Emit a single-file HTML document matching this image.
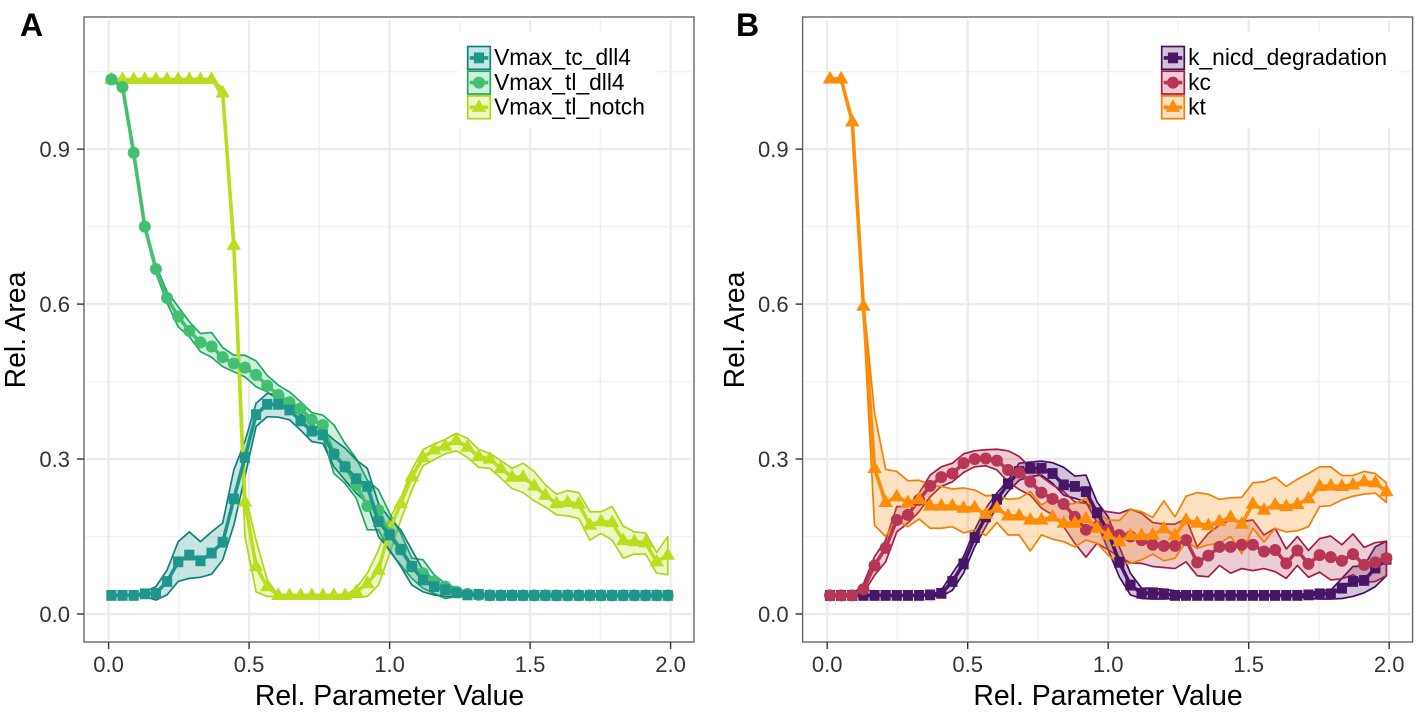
<!DOCTYPE html>
<html lang="en">
<head>
<meta charset="utf-8">
<title>Relative area vs relative parameter value</title>
<style>
html,body{margin:0;padding:0;background:#fff;}
svg{display:block;font-family:"Liberation Sans",Arial,sans-serif;}
</style>
</head>
<body>
<svg id="chart" xmlns="http://www.w3.org/2000/svg" width="1418" height="712" viewBox="0 0 1418 712">
  <rect x="0" y="0" width="1418" height="712" fill="#fff"/>
  <g id="panel-a"></g>
  <g id="panel-b"></g>
  <text x="20" y="36" font-size="32" font-weight="bold" fill="#000">A</text>
  <text x="736" y="36" font-size="32" font-weight="bold" fill="#000">B</text>
  <text x="389.5" y="705" font-size="28.4" text-anchor="middle" fill="#000">Rel. Parameter Value</text>
  <text x="1108" y="705" font-size="28.4" text-anchor="middle" fill="#000">Rel. Parameter Value</text>
  <text transform="translate(25,330) rotate(-90)" font-size="28.4" text-anchor="middle" fill="#000">Rel. Area</text>
  <text transform="translate(744,330) rotate(-90)" font-size="28.4" text-anchor="middle" fill="#000">Rel. Area</text>
</svg>
<script>
const paramValues = [0.0100,0.0496,0.0892,0.1288,0.1684,0.2080,0.2476,0.2872,0.3268,0.3664,0.4060,0.4456,0.4852,0.5248,0.5644,0.6040,0.6436,0.6832,0.7228,0.7624,0.8020,0.8416,0.8812,0.9208,0.9604,1.0000,1.0396,1.0792,1.1188,1.1584,1.1980,1.2376,1.2772,1.3168,1.3564,1.3960,1.4356,1.4752,1.5148,1.5544,1.5940,1.6336,1.6732,1.7128,1.7524,1.7920,1.8316,1.8712,1.9108,1.9504,1.9900];

const xTickValues = [0, 0.5, 1, 1.5, 2];
const xTickLabels = ["0.0", "0.5", "1.0", "1.5", "2.0"];
const xMinorValues = [0.25, 0.75, 1.25, 1.75];
const yTickValues = [0, 0.3, 0.6, 0.9];
const yTickLabels = ["0.0", "0.3", "0.6", "0.9"];
const yMinorValues = [0.15, 0.45, 0.75, 1.05];

const tcDll4Mean = [.036,.036,.036,.039,.040,.063,.101,.114,.103,.118,.139,.223,.303,.386,.406,.406,.395,.374,.354,.347,.309,.285,.262,.247,.179,.153,.125,.092,.066,.053,.047,.041,.037,.038,.036,.036,.036,.036,.036,.036,.036,.036,.036,.036,.036,.036,.036,.036,.036,.036,.036];
const tcDll4Hi = [.036,.036,.036,.043,.053,.085,.140,.159,.140,.159,.176,.279,.334,.408,.427,.424,.411,.389,.366,.356,.337,.321,.298,.282,.214,.185,.163,.124,.085,.066,.053,.043,.039,.036,.036,.036,.036,.036,.036,.036,.036,.036,.036,.036,.036,.036,.036,.036,.036,.036,.036];
const tcDll4Lo = [.036,.036,.036,.034,.027,.037,.063,.069,.071,.077,.105,.172,.266,.363,.382,.381,.376,.356,.334,.330,.285,.259,.234,.214,.150,.124,.092,.056,.043,.037,.034,.034,.034,.036,.036,.036,.036,.036,.036,.036,.036,.036,.036,.036,.036,.036,.036,.036,.036,.036,.036];

const tlDll4Mean = [1.035,1.020,.893,.750,.668,.612,.576,.548,.526,.518,.497,.485,.477,.463,.442,.424,.410,.398,.376,.366,.310,.285,.250,.209,.201,.156,.125,.092,.079,.063,.053,.043,.039,.037,.036,.036,.036,.036,.036,.036,.036,.036,.036,.036,.036,.036,.036,.036,.036,.036,.036];
const tlDll4Hi = [1.036,1.022,.897,.755,.675,.624,.595,.566,.543,.545,.516,.501,.501,.490,.462,.443,.430,.411,.390,.385,.366,.330,.301,.259,.240,.195,.156,.108,.105,.076,.059,.050,.041,.037,.036,.036,.036,.036,.036,.036,.036,.036,.036,.036,.036,.036,.036,.036,.036,.036,.036];
const tlDll4Lo = [1.034,1.018,.888,.745,.660,.602,.556,.537,.508,.497,.479,.469,.459,.440,.430,.414,.398,.385,.363,.343,.272,.253,.224,.163,.163,.121,.095,.069,.050,.040,.030,.034,.034,.036,.036,.036,.036,.036,.036,.036,.036,.036,.036,.036,.036,.036,.036,.036,.036,.036,.036];

const tlNotchMean = [1.035,1.035,1.035,1.035,1.035,1.035,1.035,1.035,1.035,1.035,1.009,.714,.217,.092,.053,.036,.036,.036,.036,.036,.036,.036,.043,.059,.085,.163,.214,.266,.303,.318,.325,.336,.323,.305,.300,.282,.265,.265,.248,.230,.214,.216,.213,.172,.179,.177,.142,.140,.138,.101,.114];
const tlNotchHi = [1.036,1.036,1.036,1.036,1.036,1.036,1.036,1.036,1.036,1.036,1.018,.740,.234,.143,.066,.036,.036,.036,.036,.036,.036,.036,.050,.079,.124,.185,.224,.279,.318,.329,.338,.350,.340,.319,.311,.297,.282,.292,.276,.250,.232,.239,.235,.198,.198,.208,.170,.159,.157,.119,.150];
const tlNotchLo = [1.034,1.034,1.034,1.034,1.034,1.034,1.034,1.034,1.034,1.034,1.000,.690,.150,.043,.034,.034,.034,.034,.034,.034,.034,.034,.032,.034,.056,.117,.182,.240,.287,.299,.310,.316,.303,.284,.282,.263,.243,.235,.219,.207,.192,.190,.185,.143,.156,.143,.108,.116,.116,.079,.076];

const nicdMean = [.036,.036,.036,.036,.036,.036,.036,.036,.036,.037,.040,.063,.097,.148,.188,.222,.252,.276,.282,.282,.272,.250,.247,.237,.196,.159,.100,.056,.040,.041,.039,.036,.036,.036,.036,.036,.036,.036,.036,.036,.036,.036,.036,.037,.039,.039,.050,.063,.065,.089,.106];
const nicdHi = [.036,.036,.036,.036,.036,.036,.036,.036,.036,.036,.046,.079,.111,.163,.205,.234,.259,.292,.294,.296,.293,.284,.267,.269,.217,.188,.130,.079,.050,.050,.048,.045,.037,.037,.037,.037,.037,.037,.037,.037,.037,.037,.037,.040,.045,.046,.069,.092,.093,.130,.141];
const nicdLo = [.035,.035,.035,.035,.035,.035,.035,.035,.035,.035,.034,.046,.079,.130,.169,.208,.237,.259,.266,.269,.253,.230,.224,.217,.177,.124,.072,.037,.030,.029,.029,.030,.034,.034,.034,.034,.034,.034,.034,.034,.034,.034,.034,.030,.029,.029,.030,.034,.041,.053,.074];

const kcMean = [.036,.036,.036,.048,.094,.128,.182,.192,.221,.248,.265,.272,.292,.300,.301,.297,.279,.274,.256,.235,.223,.213,.188,.163,.169,.163,.153,.150,.143,.134,.132,.132,.143,.100,.113,.130,.130,.134,.134,.121,.124,.098,.123,.097,.114,.110,.103,.116,.095,.100,.108];
const kcHi = [.037,.037,.037,.058,.111,.143,.208,.208,.234,.269,.285,.292,.310,.316,.318,.319,.316,.305,.284,.266,.250,.237,.217,.214,.201,.198,.195,.203,.195,.177,.174,.174,.185,.130,.156,.172,.182,.179,.182,.153,.166,.126,.150,.123,.146,.151,.134,.155,.129,.138,.141];
const kcLo = [.035,.035,.035,.040,.075,.101,.159,.176,.198,.227,.247,.256,.274,.285,.287,.279,.256,.241,.230,.205,.192,.169,.137,.110,.137,.124,.111,.099,.098,.092,.090,.088,.101,.074,.072,.094,.079,.088,.084,.088,.082,.069,.094,.071,.081,.066,.068,.076,.061,.063,.074];

const ktMean = [1.036,1.036,.953,.596,.282,.216,.227,.216,.222,.209,.209,.209,.205,.206,.193,.205,.190,.190,.182,.182,.188,.176,.176,.185,.166,.153,.140,.152,.152,.153,.165,.152,.182,.176,.171,.179,.187,.174,.213,.201,.211,.208,.212,.223,.247,.248,.247,.250,.256,.254,.237];
const ktHi = [1.037,1.037,.960,.610,.389,.280,.276,.258,.259,.250,.247,.242,.244,.240,.229,.230,.222,.224,.237,.211,.224,.211,.214,.224,.195,.182,.181,.203,.198,.187,.219,.188,.228,.235,.232,.222,.225,.226,.254,.256,.265,.247,.261,.272,.285,.285,.268,.268,.276,.272,.254];
const ktLo = [1.035,1.035,.945,.580,.172,.150,.182,.169,.184,.166,.166,.169,.157,.163,.152,.177,.153,.153,.122,.153,.145,.140,.130,.143,.137,.114,.097,.098,.105,.116,.103,.108,.140,.127,.134,.137,.150,.117,.166,.139,.166,.159,.161,.169,.208,.210,.221,.228,.232,.234,.216];

const NS = "http://www.w3.org/2000/svg";
const PANEL_W = 610, PANEL_TOP = 17, PANEL_BOTTOM = 642;

function xScale(left, v) { return left + 24.6 + 281 * v; }
function yScale(v) { return 614 - 516.5 * v; }

function mk(parent, tag, attrs) {
  const el = document.createElementNS(NS, tag);
  for (const k in attrs) el.setAttribute(k, attrs[k]);
  parent.appendChild(el);
  return el;
}

function linePoints(left, ys) {
  return ys.map((v, i) => xScale(left, paramValues[i]).toFixed(2) + "," + yScale(v).toFixed(2)).join(" ");
}

function bandPoints(left, hi, lo) {
  const up = hi.map((v, i) => xScale(left, paramValues[i]).toFixed(2) + "," + yScale(v).toFixed(2));
  const down = lo.map((v, i) => xScale(left, paramValues[i]).toFixed(2) + "," + yScale(v).toFixed(2)).reverse();
  return up.concat(down).join(" ");
}

function drawMarker(parent, shape, cx, cy, color) {
  if (shape === "square") {
    return mk(parent, "rect", { x: cx - 5.1, y: cy - 5.4, width: 10.2, height: 10.8, fill: color });
  }
  if (shape === "circle") {
    return mk(parent, "circle", { cx: cx, cy: cy, r: 6, fill: color });
  }
  const pts = [[cx, cy - 8], [cx + 7.2, cy + 4.6], [cx - 7.2, cy + 4.6]].map(p => p[0].toFixed(2) + "," + p[1].toFixed(2)).join(" ");
  return mk(parent, "polygon", { points: pts, fill: color });
}

function drawPanel(root, left, series, legend) {
  const right = left + PANEL_W;

  const grid = mk(root, "g", {});
  
  
  yMinorValues.forEach(v => {
    const el = mk(grid, "line", { x1: left + 2, x2: right - 2, y1: yScale(v), y2: yScale(v), stroke: "#f0f0f0", "stroke-width": 1.4 });
    
    
  });
  xMinorValues.forEach(v => {
    const el = mk(grid, "line", { x1: xScale(left, v), x2: xScale(left, v), y1: PANEL_TOP + 3, y2: PANEL_BOTTOM - 2, stroke: "#f0f0f0", "stroke-width": 1.4 });
    
    
  });
  yTickValues.forEach(v => {
    const el = mk(grid, "line", { x1: left + 2, x2: right - 2, y1: yScale(v), y2: yScale(v), stroke: "#ebebeb", "stroke-width": 2.4 });
    
    
  });
  xTickValues.forEach(v => {
    const el = mk(grid, "line", { x1: xScale(left, v), x2: xScale(left, v), y1: PANEL_TOP + 3, y2: PANEL_BOTTOM - 2, stroke: "#ebebeb", "stroke-width": 2.4 });
    
    
  });

  const bg = mk(root, "rect", { x: legend.boxX, y: 32, width: legend.boxW, height: 96, fill: "#fff" });
  
  

  series.forEach(s => {
    const band = mk(root, "polygon", {
      points: bandPoints(left, s.hi, s.lo), fill: s.color, "fill-opacity": 0.25,
      stroke: s.edge, "stroke-width": 1.7, "stroke-linejoin": "round"
    });
    
    
  });
  series.forEach(s => {
    const ln = mk(root, "polyline", {
      points: linePoints(left, s.mean), fill: "none", stroke: s.color,
      "stroke-width": 3.6, "stroke-linejoin": "round"
    });
    
    
    s.mean.forEach((v, i) => {
      const m = drawMarker(root, s.shape, xScale(left, paramValues[i]), yScale(v), s.color);
      
      
    });
  });

  const border = mk(root, "rect", { x: left, y: PANEL_TOP, width: PANEL_W, height: PANEL_BOTTOM - PANEL_TOP, fill: "none", stroke: "#666", "stroke-width": 1.4 });
  
  

  xTickValues.forEach((v, i) => {
    const t = mk(root, "line", { x1: xScale(left, v), x2: xScale(left, v), y1: PANEL_BOTTOM, y2: PANEL_BOTTOM + 7, stroke: "#333", "stroke-width": 1.4 });
    
    
    const lab = mk(root, "text", { x: xScale(left, v), y: 672, "font-size": 22, "text-anchor": "middle", fill: "#333" });
    
    
    lab.textContent = xTickLabels[i];
  });
  yTickValues.forEach((v, i) => {
    const t = mk(root, "line", { x1: left - 7, x2: left, y1: yScale(v), y2: yScale(v), stroke: "#333", "stroke-width": 1.4 });
    
    
    const lab = mk(root, "text", { x: left - 14, y: yScale(v) + 8, "font-size": 22, "text-anchor": "end", fill: "#333" });
    
    
    lab.textContent = yTickLabels[i];
  });

  series.forEach(s => {
    const g = mk(root, "g", {});
    
    
    const top = 46.5 + 24.7 * s.slot, mid = top + 11.4;
    mk(g, "rect", { x: legend.keyX, y: top, width: 22.6, height: 22.8, fill: s.color, "fill-opacity": 0.25, stroke: s.edge, "stroke-width": 1.7 });
    mk(g, "line", { x1: legend.keyX + 2, x2: legend.keyX + 20.6, y1: mid, y2: mid, stroke: s.color, "stroke-width": 3.6 });
    drawMarker(g, s.shape, legend.keyX + 11.3, mid, s.color);
    const lab = mk(g, "text", { x: legend.keyX + 26.4, y: top + 18.6, "font-size": 22.8, fill: "#000" });
    lab.textContent = s.name;
  });
}

const seriesA = [
  { name: "Vmax_tl_notch", slot: 2, shape: "triangle", color: "#b8de1e", edge: "#aed61a", mean: tlNotchMean, hi: tlNotchHi, lo: tlNotchLo },
  { name: "Vmax_tl_dll4", slot: 1, shape: "circle", color: "#43bf71", edge: "#1fa861", mean: tlDll4Mean, hi: tlDll4Hi, lo: tlDll4Lo },
  { name: "Vmax_tc_dll4", slot: 0, shape: "square", color: "#1f968b", edge: "#12807a", mean: tcDll4Mean, hi: tcDll4Hi, lo: tcDll4Lo }
];
const seriesB = [
  { name: "k_nicd_degradation", slot: 0, shape: "square", color: "#481567", edge: "#440f60", mean: nicdMean, hi: nicdHi, lo: nicdLo },
  { name: "kc", slot: 1, shape: "circle", color: "#b83655", edge: "#a61c46", mean: kcMean, hi: kcHi, lo: kcLo },
  { name: "kt", slot: 2, shape: "triangle", color: "#fd8c08", edge: "#f57f00", mean: ktMean, hi: ktHi, lo: ktLo }
];

drawPanel(document.getElementById("panel-a"), 84, seriesA, { boxX: 458, boxW: 198, keyX: 467.7 });
drawPanel(document.getElementById("panel-b"), 802.6, seriesB, { boxX: 1153, boxW: 246, keyX: 1161.7 });
</script>
</body>
</html>
